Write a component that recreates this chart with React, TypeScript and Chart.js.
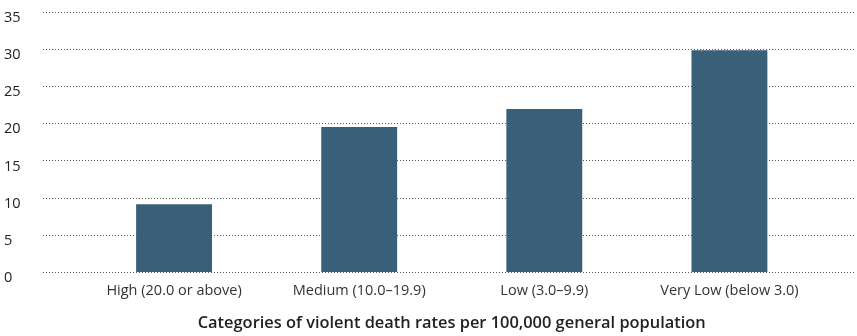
import React, { useEffect, useRef } from "react";
import { Chart, registerables } from "chart.js";

Chart.register(...registerables);

const categories = ["High (20.0 or above)", "Medium (10.0–19.9)", "Low (3.0–9.9)", "Very Low (below 3.0)"];
const values = [9.1, 19.5, 21.9, 29.8];
const yTicks = [0, 5, 10, 15, 20, 25, 30, 35];
const xTitle = "Categories of violent death rates per 100,000 general population";

const FONT = "'Open Sans', 'DejaVu Sans', sans-serif";
const BAR = "#3a5f78";

const dottedGrid = {
  id: "dottedGrid",
  beforeDatasetsDraw(chart: any) {
    const { ctx } = chart;
    const y = chart.scales.y;
    ctx.save();
    ctx.strokeStyle = "#555";
    ctx.lineWidth = 1;
    ctx.setLineDash([1, 2]);
    for (const v of yTicks) {
      const py = Math.round(y.getPixelForValue(v)) + 0.5;
      ctx.beginPath();
      ctx.moveTo(43, py);
      ctx.lineTo(chart.width - 2, py);
      ctx.stroke();
    }
    ctx.restore();
  },
};

export default function App() {
  const ref = useRef<HTMLCanvasElement>(null);
  useEffect(() => {
    document.body.style.margin = "0";
    const chart = new Chart(ref.current!, {
      type: "bar",
      data: {
        labels: categories,
        datasets: [
          {
            data: values,
            backgroundColor: BAR,
            barPercentage: 0.82,
            categoryPercentage: 0.5,
          },
        ],
      },
      options: {
        animation: false,
        responsive: false,
        maintainAspectRatio: false,
        layout: { padding: { top: 10, left: 4, right: 35, bottom: 3 } },
        plugins: { legend: { display: false }, tooltip: { enabled: false } },
        scales: {
          x: {
            grid: { display: false, drawTicks: false },
            border: { display: false },
            ticks: { color: "#333", font: { family: FONT, size: 14.5 }, padding: 10 },
            title: {
              display: true,
              text: xTitle,
              color: "#222",
              font: { family: FONT, size: 16.4, weight: "600" },
              padding: { top: 4, bottom: 0 },
            },
          },
          y: {
            min: 0,
            max: 35,
            grid: { display: false, drawTicks: false },
            border: { display: false },
            afterFit(scale: any) {
              scale.width = 77.5;
            },
            afterBuildTicks(scale: any) {
              scale.ticks = yTicks.map((v) => ({ value: v }));
            },
            ticks: {
              color: "#222",
              crossAlign: "far",
              labelOffset: 6,
              font: { family: FONT, size: 14.5 },
            },
          },
        },
      },
      plugins: [dottedGrid],
    });
    return () => chart.destroy();
  }, []);
  return <canvas ref={ref} width={857} height={336} style={{ display: "block" }} />;
}
